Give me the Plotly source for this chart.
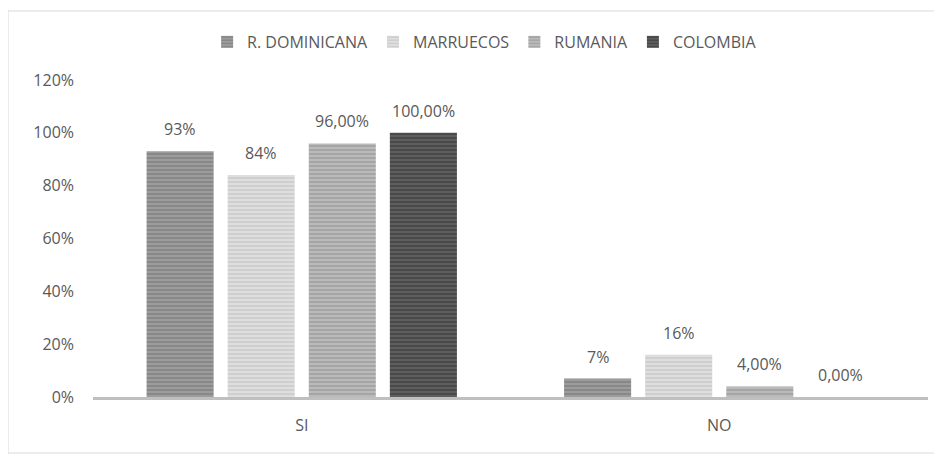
import plotly.graph_objects as go

categories = ["SI", "NO"]
series_names = ["R. DOMINICANA", "MARRUECOS", "RUMANIA", "COLOMBIA"]
values = {
    "R. DOMINICANA": [0.93, 0.07],
    "MARRUECOS": [0.84, 0.16],
    "RUMANIA": [0.96, 0.04],
    "COLOMBIA": [1.00, 0.00],
}
labels = {
    "R. DOMINICANA": ["93%", "7%"],
    "MARRUECOS": ["84%", "16%"],
    "RUMANIA": ["96,00%", "4,00%"],
    "COLOMBIA": ["100,00%", "0,00%"],
}
tick_vals = [0, 0.2, 0.4, 0.6, 0.8, 1.0, 1.2]
tick_text = ["0%", "20%", "40%", "60%", "80%", "100%", "120%"]

styles = {
    "R. DOMINICANA": ("#9c9c9c", "#6e6e6e"),
    "MARRUECOS": ("#dedede", "#bcbcbc"),
    "RUMANIA": ("#bababa", "#8c8c8c"),
    "COLOMBIA": ("#5e5e5e", "#2e2e2e"),
}

FONT = "Open Sans"
TXT = "#595959"
W, H = 942, 455
ML, MR, MT, MB = 85, 22, 72, 66
BARGAP, GROUPGAP = 0.223, 0.173

plot_w = W - ML - MR
slot = plot_w / len(categories) * (1 - BARGAP) / len(series_names)

fig = go.Figure()
annotations = []
for i, name in enumerate(series_names):
    bg, fg = styles[name]
    fig.add_trace(go.Bar(
        name=name, x=categories, y=values[name],
        cliponaxis=False,
        marker=dict(color=bg, line=dict(width=0),
                    pattern=dict(shape="-", fgcolor=fg, bgcolor=bg, size=4, solidity=0.45)),
    ))
    off = (i - (len(series_names) - 1) / 2) * slot
    for cat, v, lab in zip(categories, values[name], labels[name]):
        annotations.append(dict(x=cat, y=v, xref="x", yref="y", text=lab,
                                showarrow=False, xshift=off, yshift=9,
                                yanchor="bottom",
                                font=dict(family=FONT, size=16, color=TXT)))

fig.update_layout(
    width=W, height=H,
    margin=dict(l=ML, r=MR, t=MT, b=MB),
    paper_bgcolor="white", plot_bgcolor="white",
    barmode="group", bargap=BARGAP, bargroupgap=GROUPGAP,
    font=dict(family=FONT, color=TXT, size=16),
    showlegend=True,
    legend=dict(orientation="h", x=0.469, xanchor="center", y=1.12, yanchor="middle",
                font=dict(family=FONT, size=16, color=TXT), traceorder="normal",
                itemwidth=30),
    xaxis=dict(showgrid=False, showline=True, linecolor="#bfbfbf", linewidth=3,
               ticks="", ticklabelstandoff=12, tickfont=dict(size=16, color=TXT),
               zeroline=False),
    yaxis=dict(range=[0, 1.2], tickvals=tick_vals, ticktext=tick_text,
               showgrid=False, zeroline=False, showline=False, ticks="",
               ticklabelstandoff=18, tickfont=dict(size=16, color=TXT)),
    annotations=annotations,
    shapes=[dict(type="rect", xref="paper", yref="paper",
                 x0=-0.1018, x1=1.06, y0=-0.1767, y1=1.2177,
                 line=dict(color="#d9d9d9", width=1), fillcolor="rgba(0,0,0,0)", layer="below")],
)

fig.write_html("out.html")
